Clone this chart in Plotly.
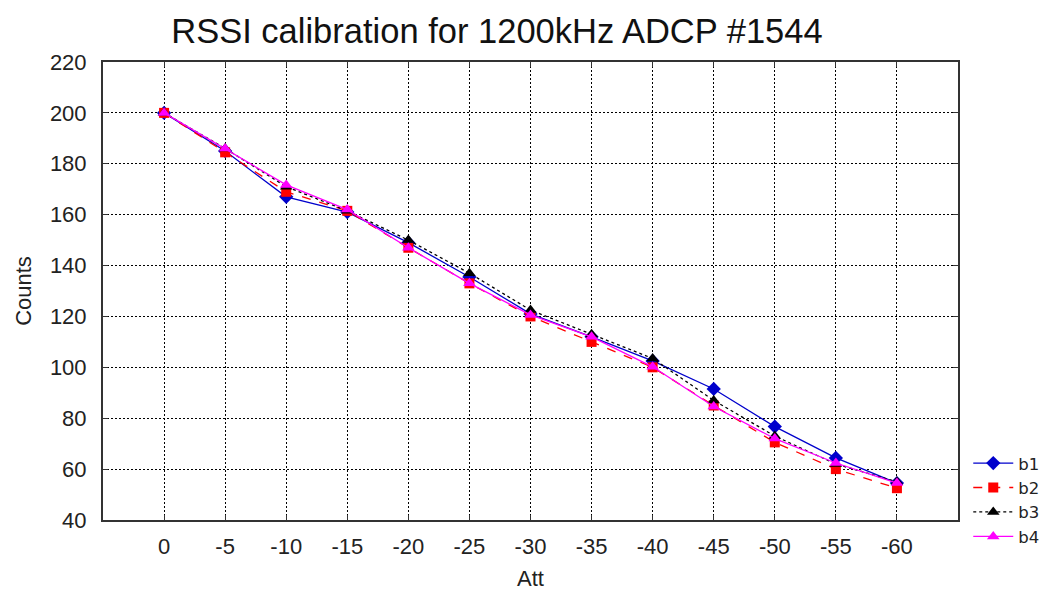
import plotly.graph_objects as go

att = [0, -5, -10, -15, -20, -25, -30, -35, -40, -45, -50, -55, -60]
x_ticklabels = ["0", "-5", "-10", "-15", "-20", "-25", "-30", "-35", "-40", "-45", "-50", "-55", "-60"]
b1 = [200, 185, 167, 161, 149, 135.5, 121, 112, 102.5, 91.5, 76.7, 64.4, 54.5]
b2 = [200, 184.5, 169, 161.5, 147, 133, 120, 110, 100, 85, 70.5, 60, 52.5]
b3 = [200, 186, 171, 161.5, 150, 137, 122.5, 113, 103.5, 87, 73, 62, 55]
b4 = [200, 186, 171.7, 162, 147, 133, 120.6, 112, 100.2, 84.6, 72, 62.4, 54.5]
y_ticks = [40, 60, 80, 100, 120, 140, 160, 180, 200, 220]

series = [
    ("b1", b1, "#0000cc", "solid", "diamond", 11),
    ("b2", b2, "#ff0000", "dash", "square", 10),
    ("b3", b3, "#000000", "dot", "triangle-up", 11),
    ("b4", b4, "#ff00ff", "solid", "triangle-up", 11),
]

fig = go.Figure()
for name, vals, col, dash, sym, sz in series:
    fig.add_trace(go.Scatter(
        x=att, y=vals, name=name, mode="lines+markers",
        line=dict(color=col, width=1.3, dash=dash),
        marker=dict(color=col, symbol=sym, size=sz),
    ))

font_family = "Liberation Sans, Arial, sans-serif"
fig.update_layout(
    width=1039, height=587,
    margin=dict(l=95, r=89, t=54, b=75, autoexpand=False),
    paper_bgcolor="white", plot_bgcolor="white",
    font=dict(family=font_family, size=22, color="#222222"),
    title=dict(text="RSSI calibration for 1200kHz ADCP #1544", x=0.4706, xanchor="center",
               y=0.961, yanchor="middle", font=dict(size=34.5, color="#111111")),
    showlegend=True,
    legend=dict(x=1.012, xanchor="left", y=0.044, yanchor="middle",
                bgcolor="rgba(0,0,0,0)",
                font=dict(family="DejaVu Sans, sans-serif", size=16.5, color="#222222"),
                itemwidth=40, tracegroupgap=0),
)
fig.update_xaxes(
    range=[5, -65], tickmode="array", tickvals=att, ticktext=x_ticklabels,
    showgrid=True, gridcolor="black", griddash="2px,2px", gridwidth=1,
    showline=True, linecolor="#333333", linewidth=2, mirror="allticks",
    zeroline=False, ticks="inside", ticklen=5, tickcolor="#333333", ticklabelstandoff=6,
    title=dict(text="Att", font=dict(size=22), standoff=12),
)
fig.update_yaxes(
    range=[40, 220], tickmode="array", tickvals=y_ticks,
    showgrid=True, gridcolor="black", griddash="2px,2px", gridwidth=1,
    showline=True, linecolor="#333333", linewidth=2, mirror="allticks",
    zeroline=False, ticks="inside", ticklen=5, tickcolor="#333333", ticklabelstandoff=10,
    title=dict(text="Counts", font=dict(size=22), standoff=12),
)
fig.write_html("out.html")
